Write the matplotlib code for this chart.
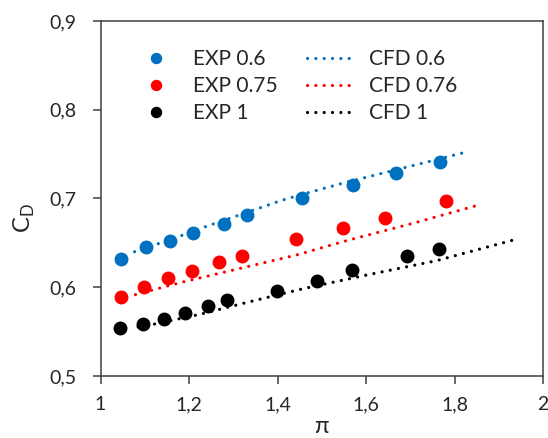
import matplotlib
matplotlib.use('Agg')
from matplotlib import pyplot as plt

plt.rcParams['font.family'] = ['Lato', 'DejaVu Sans']

# experimental points
pi_06 = [1.047, 1.103, 1.157, 1.210, 1.278, 1.330, 1.455, 1.571, 1.668, 1.768]
cd_06 = [0.632, 0.6455, 0.652, 0.661, 0.671, 0.681, 0.700, 0.715, 0.729, 0.741]

pi_075 = [1.047, 1.098, 1.153, 1.207, 1.268, 1.319, 1.442, 1.549, 1.642, 1.781]
cd_075 = [0.589, 0.600, 0.610, 0.618, 0.6285, 0.635, 0.654, 0.667, 0.678, 0.697]

pi_1 = [1.043, 1.095, 1.143, 1.191, 1.244, 1.285, 1.398, 1.489, 1.569, 1.693, 1.764]
cd_1 = [0.554, 0.559, 0.564, 0.571, 0.579, 0.586, 0.596, 0.607, 0.619, 0.635, 0.6436]

# CFD curves
cfd_pi_06 = [1.077, 1.16, 1.236, 1.41, 1.47, 1.546, 1.645, 1.726, 1.824]
cfd_cd_06 = [0.640, 0.654, 0.668, 0.698, 0.7066, 0.717, 0.7295, 0.7396, 0.752]

cfd_pi_076 = [1.079, 1.180, 1.300, 1.443, 1.556, 1.711, 1.852]
cfd_cd_076 = [0.5917, 0.6052, 0.6194, 0.6363, 0.6525, 0.6727, 0.6923]

cfd_pi_1 = [1.085, 1.123, 1.225, 1.323, 1.421, 1.462, 1.602, 1.760, 1.939]
cfd_cd_1 = [0.5553, 0.5586, 0.5695, 0.5819, 0.5939, 0.5988, 0.6138, 0.630, 0.654]

xticks = [1, 1.2, 1.4, 1.6, 1.8, 2]
xtick_labels = ['1', '1,2', '1,4', '1,6', '1,8', '2']
yticks = [0.5, 0.6, 0.7, 0.8, 0.9]
ytick_labels = ['0,5', '0,6', '0,7', '0,8', '0,9']

blue = '#0070C0'
red = '#FF0000'
black = '#000000'
txt = '#262626'

fig = plt.figure(figsize=(5.48, 4.38), dpi=100)
ax = fig.add_axes([0.1834, 0.1416, 0.8075, 0.8105])

dots = dict(linestyle=(0, (0.01, 2.6)), dash_capstyle='round', linewidth=2.3)

e1, = ax.plot(pi_06, cd_06, 'o', color=blue, markersize=9, label='EXP 0.6')
e2, = ax.plot(pi_075, cd_075, 'o', color=red, markersize=9, label='EXP 0.75')
e3, = ax.plot(pi_1, cd_1, 'o', color=black, markersize=9, label='EXP 1')
c1, = ax.plot(cfd_pi_06, cfd_cd_06, color=blue, label='CFD 0.6', **dots)
c2, = ax.plot(cfd_pi_076, cfd_cd_076, color=red, label='CFD 0.76', **dots)
c3, = ax.plot(cfd_pi_1, cfd_cd_1, color=black, label='CFD 1', **dots)

ax.set_xlim(1, 2)
ax.set_ylim(0.5, 0.9)
ax.set_xticks(xticks)
ax.set_xticklabels(xtick_labels)
ax.set_yticks(yticks)
ax.set_yticklabels(ytick_labels)
ax.tick_params(axis='both', direction='out', length=5.5, width=1.1,
               color='#404040', labelsize=14, labelcolor=txt)
ax.tick_params(axis='y', pad=12)
ax.tick_params(axis='x', pad=9)

for s in ax.spines.values():
    s.set_color('#404040')
    s.set_linewidth(1.1)

ax.set_ylabel('C$_\\mathregular{D}$', fontsize=17, color=txt)
ax.yaxis.set_label_coords(-0.143, 0.445)
ax.set_xlabel('π', fontsize=17, color=txt, labelpad=2)

ax.legend(handles=[e1, e2, e3, c1, c2, c3], ncol=2, frameon=False,
          loc='upper left', bbox_to_anchor=(0.07, 0.92), fontsize=15,
          borderpad=0, borderaxespad=0,
          handlelength=2.4, handletextpad=0.56, columnspacing=1.4,
          labelspacing=0.33, labelcolor=txt, markerscale=0.8)

fig.savefig('out.png', dpi=100)
